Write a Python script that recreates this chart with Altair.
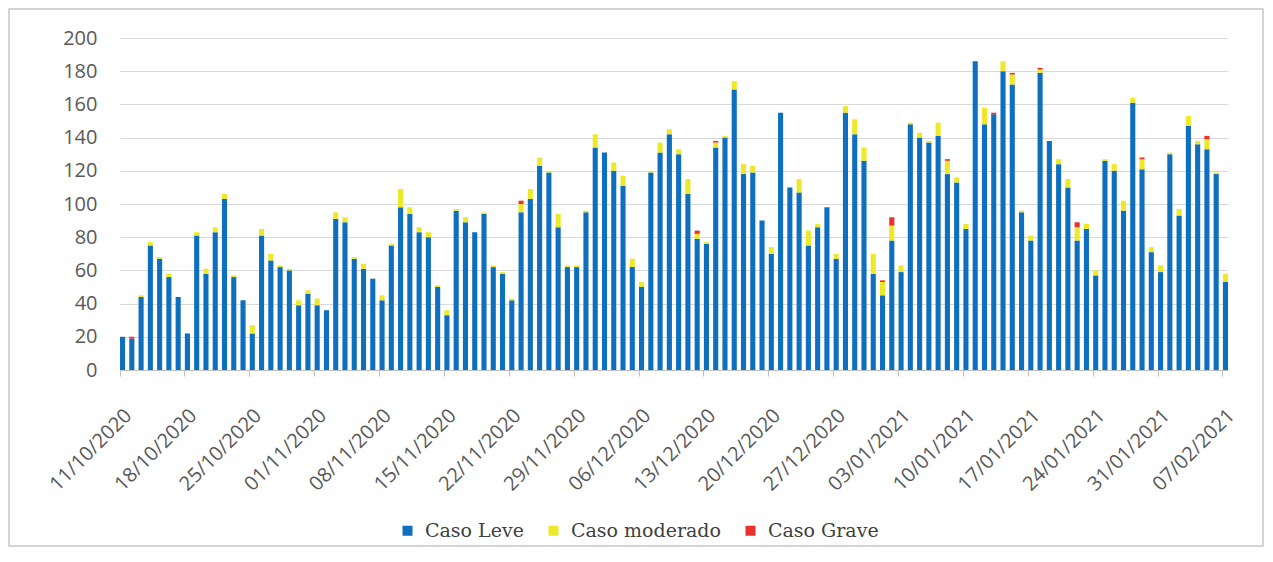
import altair as alt
import pandas as pd

# 120 consecutive days, 11/10/2020 .. 07/02/2021
fechas = pd.date_range("2020-10-11", periods=120, freq="D").strftime("%d/%m/%Y").tolist()

etiquetas = ["11/10/2020", "18/10/2020", "25/10/2020", "01/11/2020", "08/11/2020",
             "15/11/2020", "22/11/2020", "29/11/2020", "06/12/2020", "13/12/2020",
             "20/12/2020", "27/12/2020", "03/01/2021", "10/01/2021", "17/01/2021",
             "24/01/2021", "31/01/2021", "07/02/2021"]

caso_leve = [
    20, 19, 44, 75, 67, 56, 44, 22, 81, 58,
    83, 103, 56, 42, 22, 81, 66, 62, 60, 39,
    46, 39, 36, 91, 89, 67, 61, 55, 42, 75,
    98, 94, 83, 80, 50, 33, 96, 89, 83, 94,
    62, 58, 42, 95, 103, 123, 119, 86, 62, 62,
    95, 134, 131, 120, 111, 62, 50, 119, 131, 142,
    130, 106, 79, 76, 134, 140, 169, 118, 119, 90,
    70, 155, 110, 107, 75, 86, 98, 67, 155, 142,
    126, 58, 45, 78, 59, 148, 140, 137, 141, 118,
    113, 85, 186, 148, 154, 180, 172, 95, 78, 179,
    138, 124, 110, 78, 85, 57, 126, 120, 96, 161,
    121, 71, 59, 130, 93, 147, 136, 133, 118, 53,
]

caso_moderado = [
    0, 0, 1, 2, 1, 2, 0, 0, 2, 3,
    3, 3, 1, 0, 5, 4, 4, 1, 1, 3,
    2, 4, 0, 4, 3, 1, 3, 0, 3, 1,
    11, 4, 3, 3, 1, 3, 1, 3, 0, 1,
    1, 1, 1, 5, 6, 5, 1, 8, 1, 1,
    1, 8, 0, 5, 6, 5, 3, 1, 6, 3,
    3, 9, 3, 1, 3, 1, 5, 6, 4, 0,
    4, 0, 0, 8, 9, 2, 0, 3, 4, 9,
    8, 12, 8, 9, 4, 1, 3, 1, 8, 8,
    3, 3, 0, 10, 0, 6, 6, 1, 3, 2,
    0, 3, 5, 8, 3, 3, 1, 4, 6, 3,
    6, 3, 4, 1, 4, 6, 2, 6, 1, 5,
]

caso_grave = [
    0, 1, 0, 0, 0, 0, 0, 0, 0, 0,
    0, 0, 0, 0, 0, 0, 0, 0, 0, 0,
    0, 0, 0, 0, 0, 0, 0, 0, 0, 0,
    0, 0, 0, 0, 0, 0, 0, 0, 0, 0,
    0, 0, 0, 2, 0, 0, 0, 0, 0, 0,
    0, 0, 0, 0, 0, 0, 0, 0, 0, 0,
    0, 0, 2, 0, 1, 0, 0, 0, 0, 0,
    0, 0, 0, 0, 0, 0, 0, 0, 0, 0,
    0, 0, 1, 5, 0, 0, 0, 0, 0, 1,
    0, 0, 0, 0, 1, 0, 1, 0, 0, 1,
    0, 0, 0, 3, 0, 0, 0, 0, 0, 0,
    1, 0, 0, 0, 0, 0, 0, 2, 0, 0,
]

tipos = ["Caso Leve", "Caso moderado", "Caso Grave"]
colores = ["#0F6FBF", "#EDE928", "#EC3030"]

rows = []
for i, f in enumerate(fechas):
    for k, serie in enumerate([caso_leve, caso_moderado, caso_grave]):
        rows.append({"fecha": f, "tipo": tipos[k], "casos": serie[i], "orden": k})
df = pd.DataFrame(rows)

bars = alt.Chart(df).mark_bar().encode(
    x=alt.X(
        "fecha:O",
        sort=fechas,
        scale=alt.Scale(paddingInner=0.45, paddingOuter=0),
        axis=alt.Axis(
            values=etiquetas, title=None, labelAngle=-45, labelAlign="right",
            labelBaseline="top", labelFont="Open Sans", labelFontSize=20,
            labelColor="#595959", labelPadding=29, labelOffset=-1,
            domainColor="#bfbfbf", tickColor="#bfbfbf", tickSize=6,
            bandPosition=0, grid=False, labelOverlap=False,
        ),
    ),
    y=alt.Y(
        "casos:Q",
        stack="zero",
        scale=alt.Scale(domain=[0, 200]),
        axis=alt.Axis(
            values=list(range(0, 201, 20)), title=None, domain=False, ticks=False,
            tickSize=0, gridColor="#d9d9d9", gridWidth=1.2, labelFont="Open Sans",
            labelFontSize=20, labelColor="#595959", labelPadding=23,
        ),
    ),
    color=alt.Color(
        "tipo:N",
        scale=alt.Scale(domain=tipos, range=colores),
        legend=alt.Legend(
            title=None, orient="none", legendX=278, legendY=483,
            direction="horizontal", symbolType="square", symbolSize=100,
            symbolStrokeWidth=0, labelFont="DejaVu Serif", labelFontSize=19,
            labelColor="#404040", labelOffset=8, columnPadding=20, padding=0,
        ),
    ),
    order=alt.Order("orden:Q"),
)

frame = alt.Chart(pd.DataFrame({"k": [0]})).mark_rect(
    filled=False, stroke="#d4d4d4", strokeWidth=2
).encode(
    x=alt.value(-111), x2=alt.value(1143), y=alt.value(-29), y2=alt.value(508)
)

chart = alt.layer(frame, bars).properties(
    width=1108, height=332,
    autosize=alt.AutoSizeParams(type="none"),
    padding={"left": 112, "top": 30, "right": 37, "bottom": 178},
).configure_view(stroke=None)

chart.save("out.html", embed_options={"renderer": "svg", "actions": False})
